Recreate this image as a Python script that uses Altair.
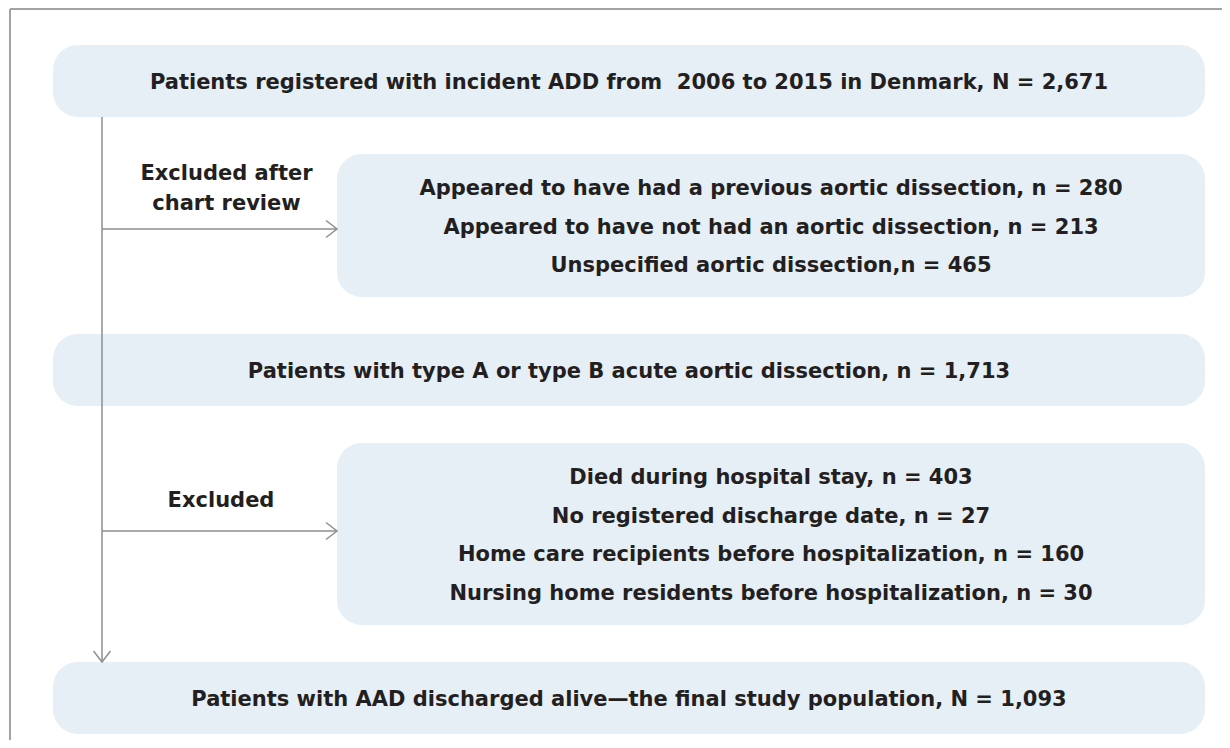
import altair as alt
import pandas as pd

# ---------------- data (text and counts) ----------------
main_steps = [
    "Patients registered with incident ADD from  2006 to 2015 in Denmark",
    "Patients with type A or type B acute aortic dissection",
    "Patients with AAD discharged alive\u2014the final study population",
]
main_symbols = ["N", "n", "N"]
main_counts = [2671, 1713, 1093]

review_reasons = [
    "Appeared to have had a previous aortic dissection",
    "Appeared to have not had an aortic dissection",
    "Unspecified aortic dissection",
]
review_seps = [", n = ", ", n = ", ",n = "]
review_counts = [280, 213, 465]

hosp_reasons = [
    "Died during hospital stay",
    "No registered discharge date",
    "Home care recipients before hospitalization",
    "Nursing home residents before hospitalization",
]
hosp_counts = [403, 27, 160, 30]

side_labels = [["Excluded after", "chart review"], ["Excluded"]]

# ---------------- layout (pixel geometry) ----------------
OFF = 8
W, H = 1214, 732
MAIN_X = (53, 1205)
SIDE_X = (337, 1205)
MAIN_Y = [(45, 117), (334, 406), (662, 734)]
SIDE_Y = [(154, 297), (443, 625)]
SPINE_X = 102
ARROW_Y = [229, 531]
LINE_GAP = 38.5
BASE_SHIFT = 8.0
SIDE_TXT = [(226.5, [179.5, 209.5]), (221, [507])]

boxes = []
for y0, y1 in MAIN_Y:
    boxes.append(dict(x0=MAIN_X[0], x1=MAIN_X[1], y0=y0, y1=y1))
for y0, y1 in SIDE_Y:
    boxes.append(dict(x0=SIDE_X[0], x1=SIDE_X[1], y0=y0, y1=y1))
boxes_df = pd.DataFrame(boxes)


def keep_spaces(s):
    # SVG collapses repeated spaces; keep the double space visible
    return s.replace("  ", " \u00a0")


def lines_in(box_y, x, labels):
    cy = (box_y[0] + box_y[1]) / 2
    n = len(labels)
    out = []
    for i, lab in enumerate(labels):
        out.append(dict(x=x, y=cy + BASE_SHIFT + (i - (n - 1) / 2) * LINE_GAP,
                        label=keep_spaces(lab)))
    return out


texts = []
mx = (MAIN_X[0] + MAIN_X[1]) / 2
sx = (SIDE_X[0] + SIDE_X[1]) / 2
for (step, sym, c), by in zip(zip(main_steps, main_symbols, main_counts), MAIN_Y):
    texts += lines_in(by, mx, [f"{step}, {sym} = {c:,}"])
texts += lines_in(SIDE_Y[0], sx, [f"{r}{s}{c:,}" for r, s, c in zip(review_reasons, review_seps, review_counts)])
texts += lines_in(SIDE_Y[1], sx, [f"{r}, n = {c:,}" for r, c in zip(hosp_reasons, hosp_counts)])
for (cx, ys_), labs in zip(SIDE_TXT, side_labels):
    for yy, lab in zip(ys_, labs):
        texts.append(dict(x=cx, y=yy, label=lab))
text_df = pd.DataFrame(texts)

connectors = [dict(x0=SPINE_X, x1=SPINE_X, y0=MAIN_Y[0][1], y1=MAIN_Y[2][0])]
for ay in ARROW_Y:
    connectors.append(dict(x0=SPINE_X, x1=SIDE_X[0], y0=ay, y1=ay))
conn_df = pd.DataFrame(connectors)

heads = [dict(x=SIDE_X[0], y=ay, ang=0) for ay in ARROW_Y]
heads.append(dict(x=SPINE_X, y=MAIN_Y[2][0], ang=90))
heads_df = pd.DataFrame(heads)

frame_df = pd.DataFrame([
    dict(x0=10, x1=OFF + W, y0=9, y1=9),
    dict(x0=10, x1=10, y0=9, y1=OFF + H),
])

xs = alt.Scale(domain=[OFF, OFF + W], zero=False, nice=False)
ys = alt.Scale(domain=[OFF, OFF + H], zero=False, nice=False, reverse=True)

X = lambda f: alt.X(f, type="quantitative", scale=xs, axis=None)
Y = lambda f: alt.Y(f, type="quantitative", scale=ys, axis=None)

frame = alt.Chart(frame_df).mark_rule(color="#a3a3a3", strokeWidth=2).encode(
    x=X("x0"), x2="x1", y=Y("y0"), y2="y1")

rects = alt.Chart(boxes_df).mark_rect(cornerRadius=25, color="#e6eef6").encode(
    x=X("x0"), x2="x1", y=Y("y0"), y2="y1")

conns = alt.Chart(conn_df).mark_rule(color="#8e8e8e", strokeWidth=1.5).encode(
    x=X("x0"), x2="x1", y=Y("y0"), y2="y1")

arrowheads = alt.Chart(heads_df).mark_point(
    shape="M -1.1 -0.85 L 0 0 L -1.1 0.85", filled=False, size=400,
    color="#8e8e8e", strokeWidth=1.5, opacity=1,
).encode(x=X("x"), y=Y("y"), angle=alt.Angle("ang:Q", scale=None))

labels = alt.Chart(text_df).mark_text(
    align="center", baseline="alphabetic", font="DejaVu Sans",
    fontWeight="bold", fontSize=21, color="#231f20",
).encode(x=X("x"), y=Y("y"), text="label:N")

chart = alt.layer(frame, rects, conns, arrowheads, labels).properties(
    width=W, height=H, padding=0,
    autosize=alt.AutoSizeParams(type="none"),
).configure_view(stroke=None)

chart.save("out.html", embed_options={"renderer": "svg", "actions": False})
